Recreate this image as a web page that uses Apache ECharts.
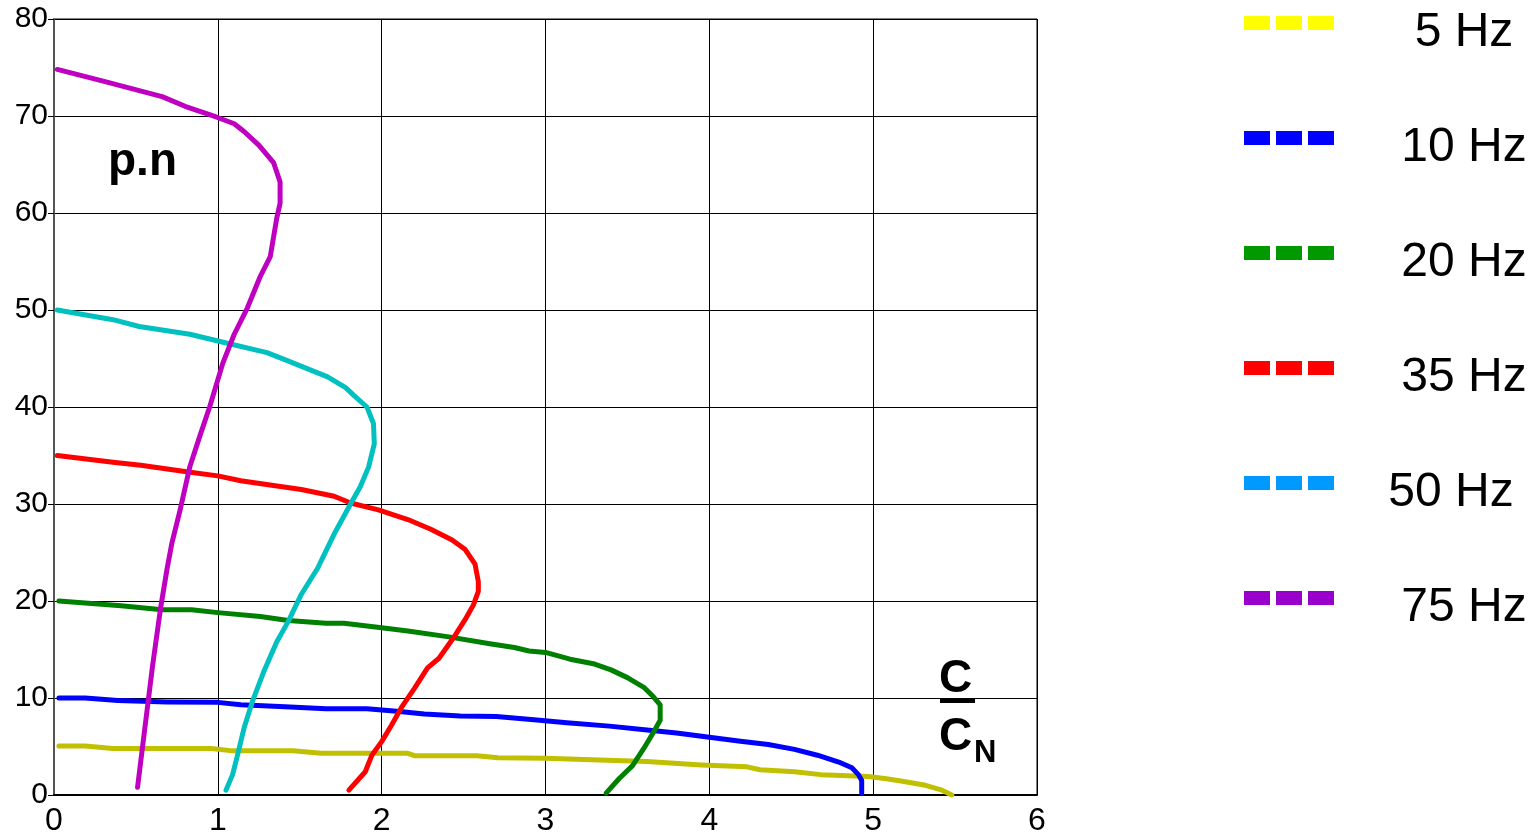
<!DOCTYPE html>
<html>
<head>
<meta charset="utf-8">
<script src="https://cdn.jsdelivr.net/npm/echarts@6/dist/echarts.min.js"></script>
<style>
html,body{margin:0;padding:0;background:#fff;}
#chart{width:1536px;height:838px;}
</style>
</head>
<body>
<div id="chart"></div>
<script>
// ---- data (x = C/CN, y = p.n) ----
var seriesNames = ['5 Hz', '10 Hz', '20 Hz', '35 Hz', '50 Hz', '75 Hz'];
var hz5 = [[0.03,5.05],[0.19,5.05],[0.36,4.8],[0.96,4.8],[1.09,4.55],[1.46,4.55],[1.63,4.3],[2.16,4.3],[2.2,4.05],[2.58,4.05],[2.71,3.85],[3.0,3.8],[3.33,3.6],[3.62,3.45],[3.95,3.1],[4.23,2.9],[4.31,2.6],[4.52,2.4],[4.68,2.1],[4.97,1.9],[5.07,1.7],[5.17,1.45],[5.32,1.0],[5.42,0.5],[5.48,0.0]];
var hz10 = [[0.03,10.0],[0.19,10.0],[0.39,9.75],[0.69,9.6],[1.0,9.55],[1.14,9.3],[1.41,9.1],[1.66,8.9],[1.91,8.9],[2.11,8.6],[2.26,8.35],[2.48,8.15],[2.70,8.1],[2.93,7.75],[3.13,7.45],[3.39,7.1],[3.62,6.7],[3.80,6.4],[4.0,5.95],[4.19,5.55],[4.36,5.2],[4.52,4.7],[4.66,4.1],[4.79,3.4],[4.87,2.8],[4.91,2.1],[4.93,1.5],[4.93,0.2]];
var hz20 = [[0.03,20.0],[0.41,19.5],[0.66,19.1],[0.84,19.1],[1.0,18.8],[1.26,18.4],[1.43,18.0],[1.66,17.7],[1.77,17.7],[2.0,17.25],[2.16,16.9],[2.41,16.3],[2.66,15.6],[2.81,15.2],[2.9,14.85],[3.0,14.7],[3.15,14.0],[3.3,13.5],[3.4,12.9],[3.5,12.1],[3.6,11.1],[3.66,10.1],[3.70,9.3],[3.70,7.7],[3.66,6.5],[3.60,4.8],[3.53,3.0],[3.45,1.7],[3.37,0.2]];
var hz35 = [[0.02,35.0],[0.36,34.3],[0.53,34.0],[0.82,33.3],[1.0,32.9],[1.14,32.4],[1.34,31.9],[1.51,31.5],[1.71,30.8],[1.81,30.1],[1.98,29.4],[2.16,28.4],[2.30,27.4],[2.43,26.3],[2.51,25.3],[2.57,23.8],[2.59,22.0],[2.59,21.0],[2.56,19.6],[2.51,18.1],[2.45,16.5],[2.35,14.1],[2.28,13.1],[2.20,11.0],[2.12,9.0],[2.06,7.2],[2.0,5.5],[1.94,4.1],[1.90,2.4],[1.80,0.5]];
var hz50 = [[0.02,50.0],[0.36,49.0],[0.52,48.3],[0.83,47.5],[1.0,46.8],[1.3,45.6],[1.42,44.8],[1.67,43.1],[1.78,42.0],[1.83,41.2],[1.91,40.0],[1.95,38.3],[1.955,36.2],[1.92,33.8],[1.87,31.8],[1.81,30.0],[1.71,26.9],[1.65,24.8],[1.61,23.4],[1.51,20.7],[1.43,17.9],[1.36,15.8],[1.28,12.7],[1.21,9.6],[1.16,6.9],[1.12,4.1],[1.09,2.1],[1.05,0.5]];
var hz75 = [[0.02,74.8],[0.3,73.6],[0.66,72.0],[0.8,71.0],[0.99,69.9],[1.1,69.2],[1.16,68.4],[1.25,67.0],[1.34,65.2],[1.38,63.2],[1.38,61.0],[1.36,59.5],[1.32,55.5],[1.26,53.5],[1.18,50.2],[1.1,47.5],[1.03,44.5],[0.95,40.0],[0.89,37.0],[0.83,33.9],[0.77,29.4],[0.72,26.0],[0.69,23.3],[0.65,19.2],[0.60,13.1],[0.57,9.0],[0.54,4.9],[0.51,0.8]];
var seriesData = [hz5, hz10, hz20, hz35, hz50, hz75];
var curveColors = ['#c0c000', '#0000ff', '#008000', '#ff0000', '#00c0c0', '#c000c0'];
var legendColors = ['#ffff00', '#0000ff', '#009900', '#ff0000', '#0099ff', '#9900cc'];
var yLabel = 'p.n';

var FONT = "'Liberation Sans', Arial, Helvetica, sans-serif";
var chart = echarts.init(document.getElementById('chart'), null, {renderer: 'canvas'});

var series = seriesNames.map(function (n, i) {
  return {
    name: n, type: 'line', data: seriesData[i],
    symbol: 'none', showSymbol: false, smooth: false,
    lineStyle: {color: curveColors[i], width: 5, join: 'round', cap: 'round'},
    itemStyle: {color: curveColors[i]},
    emphasis: {disabled: true}, animation: false
  };
});

var legendData = seriesNames.map(function (n, i) {
  return {
    name: n,
    lineStyle: {color: legendColors[i], width: 14, type: [26, 6], cap: 'butt'},
    itemStyle: {color: legendColors[i], borderWidth: 0}
  };
});

chart.setOption({
  backgroundColor: '#fff',
  animation: false,
  grid: {left: 54, right: 499, top: 19, bottom: 43, show: true, borderColor: '#000', borderWidth: 1, containLabel: false},
  xAxis: {
    type: 'value', min: 0, max: 6, interval: 1,
    axisLine: {show: true, onZero: false, lineStyle: {color: '#000', width: 2}},
    axisTick: {show: false},
    axisLabel: {color: '#000', fontSize: 32, fontFamily: FONT, margin: 10},
    splitLine: {show: true, lineStyle: {color: '#000', width: 1}}
  },
  yAxis: {
    type: 'value', min: 0, max: 80, interval: 10,
    axisLine: {show: true, onZero: false, lineStyle: {color: '#555', width: 2}},
    axisTick: {show: true, inside: false, length: 6, lineStyle: {color: '#000', width: 1}},
    axisLabel: {color: '#000', fontSize: 30, fontFamily: FONT, margin: 6, padding: [4, 0, 0, 0]},
    splitLine: {show: true, lineStyle: {color: '#000', width: 1}}
  },
  legend: {
    orient: 'vertical', left: 1237, top: -11, padding: 0,
    itemWidth: 90, itemHeight: 14, itemGap: 47,
    selectedMode: false,
    lineStyle: {width: 14, type: [26, 6], cap: 'butt'},
    data: legendData,
    formatter: function (name) { return (name === '50 Hz' ? '{b|' : '{a|') + name + '}'; },
    textStyle: {
      color: '#000', fontFamily: FONT, fontSize: 48,
      rich: {
        a: {width: 250, align: 'center', fontSize: 48, fontFamily: FONT, color: '#000', lineHeight: 48, padding: [20, 0, 0, 0]},
        b: {width: 224, align: 'center', fontSize: 48, fontFamily: FONT, color: '#000', lineHeight: 48, padding: [20, 0, 0, 0]}
      }
    }
  },
  graphic: [
    {type: 'text', x: 108, y: 162, style: {text: yLabel, fontSize: 46, fontWeight: 'bold', fontFamily: FONT, fill: '#000', verticalAlign: 'middle'}},
    {type: 'text', x: 939, y: 679, style: {text: 'C', fontSize: 46, fontWeight: 'bold', fontFamily: FONT, fill: '#000', verticalAlign: 'middle'}},
    {type: 'rect', shape: {x: 940, y: 698, width: 35, height: 5}, style: {fill: '#000'}},
    {type: 'text', x: 939, y: 737, style: {text: 'C', fontSize: 46, fontWeight: 'bold', fontFamily: FONT, fill: '#000', verticalAlign: 'middle'}},
    {type: 'text', x: 974, y: 753, style: {text: 'N', fontSize: 31, fontWeight: 'bold', fontFamily: FONT, fill: '#000', verticalAlign: 'middle'}}
  ],
  series: series
});
</script>
</body>
</html>
